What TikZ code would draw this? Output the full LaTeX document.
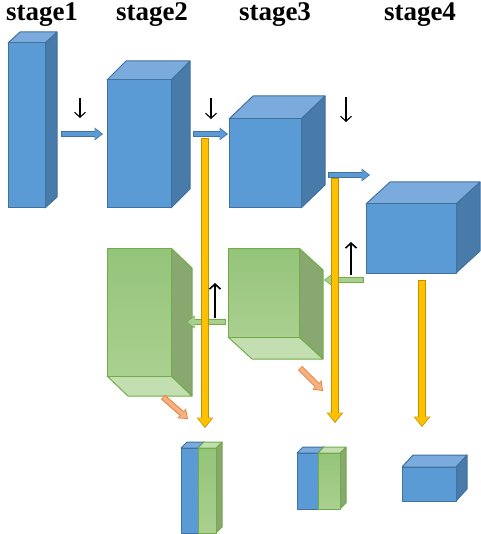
\documentclass[tikz,border=0pt]{standalone}
\usepackage{fontspec}
\setmainfont{Liberation Serif}
\usepackage{tikz}
\usetikzlibrary{arrows.meta}
\definecolor{blueface}{RGB}{91,155,213}
\definecolor{bluetopc}{RGB}{123,171,220}
\definecolor{bluesidec}{RGB}{72,123,170}
\definecolor{blueline}{RGB}{65,113,156}
\definecolor{greenhi}{RGB}{148,196,122}
\definecolor{greenlo}{RGB}{170,208,143}
\definecolor{greentopc}{RGB}{195,223,178}
\definecolor{greensidec}{RGB}{136,168,112}
\definecolor{greenline}{RGB}{112,173,71}
\definecolor{goldface}{RGB}{255,192,0}
\definecolor{goldline}{RGB}{191,144,0}
\definecolor{peachface}{RGB}{244,177,131}
\definecolor{peachline}{RGB}{237,125,49}

% front face as a node, top and side faces drawn round it
\newcommand{\cubeup}[8]{%
  \draw[#1side] (#5,#4) -- ++(#7,#8) -- ++(0,#6-#4) -- (#5,#6) -- cycle;
  \draw[#1top] (#3,#4) -- ++(#7,#8) -- ++(#5-#3,0) -- (#5,#4) -- cycle;
  \node[#1front, anchor=north west, minimum width={(#5-#3)*1pt},
        minimum height={(#6-#4)*1pt}] (#2) at (#3,#4) {};
}
\newcommand{\cubedown}[8]{%
  \draw[#1side] (#5,#4) -- ++(#7,#8) -- ++(0,#6-#4) -- (#5,#6) -- cycle;
  \draw[#1top] (#3,#6) -- ++(#7,#8) -- ++(#5-#3,0) -- (#5,#6) -- cycle;
  \node[#1front, anchor=north west, minimum width={(#5-#3)*1pt},
        minimum height={(#6-#4)*1pt}] (#2) at (#3,#4) {};
}

\begin{document}
\begin{tikzpicture}[
    x=1pt, y=-1pt,
    line join=round,
    bluefront/.style={rectangle, draw=blueline, fill=blueface, line width=1pt, inner sep=0pt, outer sep=0pt},
    bluetop/.style={draw=blueline, fill=bluetopc, line width=1pt},
    blueside/.style={draw=blueline, fill=bluesidec, line width=1pt},
    greenfront/.style={rectangle, draw=greenline, top color=greenhi, bottom color=greenlo, line width=1pt, inner sep=0pt, outer sep=0pt},
    greentop/.style={draw=greenline, fill=greentopc, line width=1pt},
    greenside/.style={draw=greenline, fill=greensidec, line width=1pt},
    stagelabel/.style={anchor=base, font=\fontsize{27}{30}\selectfont\bfseries},
    flowarrow/.style n args={2}{line width=4pt, draw=#1, shorten >=1.3pt, shorten <=0.8pt,
        -{Triangle[length=6.5pt,width=10pt,line width=0pt]},
        preaction={draw=#2, line width=6pt, shorten >=0pt, shorten <=0pt,
        -{Triangle[length=8.5pt,width=13pt,line width=0pt]}}},
    goldarrow/.style={line width=6.5pt, draw=goldface, shorten >=1.3pt, shorten <=0.8pt,
        -{Triangle[length=8.5pt,width=14pt,line width=0pt]},
        preaction={draw=goldline, line width=8.5pt, shorten >=0pt, shorten <=0pt,
        -{Triangle[length=10.5pt,width=17pt,line width=0pt]}}},
    downmark/.style={line width=1.1pt, -{Straight Barb[length=5pt,width=11pt]}},
    upmark/.style={line width=1.6pt, -{Straight Barb[length=5pt,width=11pt]}}
]
\useasboundingbox (0,0) rectangle (480,534);

% titles
\node[stagelabel] (t1) at (42,21) {stage1};
\node[stagelabel] (t2) at (152,21) {stage2};
\node[stagelabel] (t3) at (275,21) {stage3};
\node[stagelabel] (t4) at (420,21) {stage4};

% backbone blocks
\cubeup{blue}{s1}{8}{43}{45}{208}{12}{-11}
\cubeup{blue}{s2}{107}{80}{171}{208}{19}{-19}
\cubeup{blue}{s3}{229}{119}{301}{208}{24}{-23}
\cubeup{blue}{s4}{366}{204}{456}{273}{24}{-22}

% top-down blocks
\cubedown{green}{g2}{107}{248}{171}{376}{21}{20}
\cubedown{green}{g3}{228}{248}{299}{337}{24}{22}

% arrow ends
\coordinate (b12a) at (61,134);  \coordinate (b12b) at (103,134);
\coordinate (b23a) at (193,134); \coordinate (b23b) at (228,134);
\coordinate (b34a) at (328,175); \coordinate (b34b) at (370,175);
\coordinate (g32a) at (226,322); \coordinate (g32b) at (186,322);
\coordinate (g43a) at (364,280); \coordinate (g43b) at (324,280);
\coordinate (y2a) at (205,138);  \coordinate (y2b) at (205,428);
\coordinate (y3a) at (335,178);  \coordinate (y3b) at (335,423);
\coordinate (y4a) at (422,280);  \coordinate (y4b) at (422,427);
\coordinate (o2a) at (163,397);  \coordinate (o2b) at (188,419);
\coordinate (o3a) at (300,368);  \coordinate (o3b) at (323,391);
\coordinate (d1a) at (80,98);    \coordinate (d1b) at (80,118);
\coordinate (d2a) at (211,98);   \coordinate (d2b) at (211,119);
\coordinate (d3a) at (346,97);   \coordinate (d3b) at (346,122);
\coordinate (u2a) at (215,318);  \coordinate (u2b) at (215,283);
\coordinate (u3a) at (351,275);  \coordinate (u3b) at (351,242);

% connections
\draw[flowarrow={blueface}{blueline}] (b12a) -- (b12b);
\draw[flowarrow={blueface}{blueline}] (b23a) -- (b23b);
\draw[flowarrow={blueface}{blueline}] (b34a) -- (b34b);
\draw[flowarrow={greenlo}{greenline}] (g32a) -- (g32b);
\draw[flowarrow={greenlo}{greenline}] (g43a) -- (g43b);
\draw[goldarrow] (y2a) -- (y2b);
\draw[goldarrow] (y3a) -- (y3b);
\draw[goldarrow] (y4a) -- (y4b);
\draw[flowarrow={peachface}{peachline}] (o2a) -- (o2b);
\draw[flowarrow={peachface}{peachline}] (o3a) -- (o3b);
\draw[downmark] (d1a) -- (d1b);
\draw[downmark] (d2a) -- (d2b);
\draw[downmark] (d3a) -- (d3b);
\draw[upmark] (u2a) -- (u2b);
\draw[upmark] (u3a) -- (u3b);

% outputs
\cubeup{blue}{p2b}{181}{448}{198}{533}{6}{-6}
\cubeup{green}{p2g}{198}{448}{216}{533}{6}{-6}
\cubeup{blue}{p3b}{297}{453}{318}{509}{6}{-6}
\cubeup{green}{p3g}{318}{453}{340}{509}{6}{-6}
\cubeup{blue}{p4}{402}{467}{456}{501}{11}{-12}

\end{tikzpicture}
\end{document}
